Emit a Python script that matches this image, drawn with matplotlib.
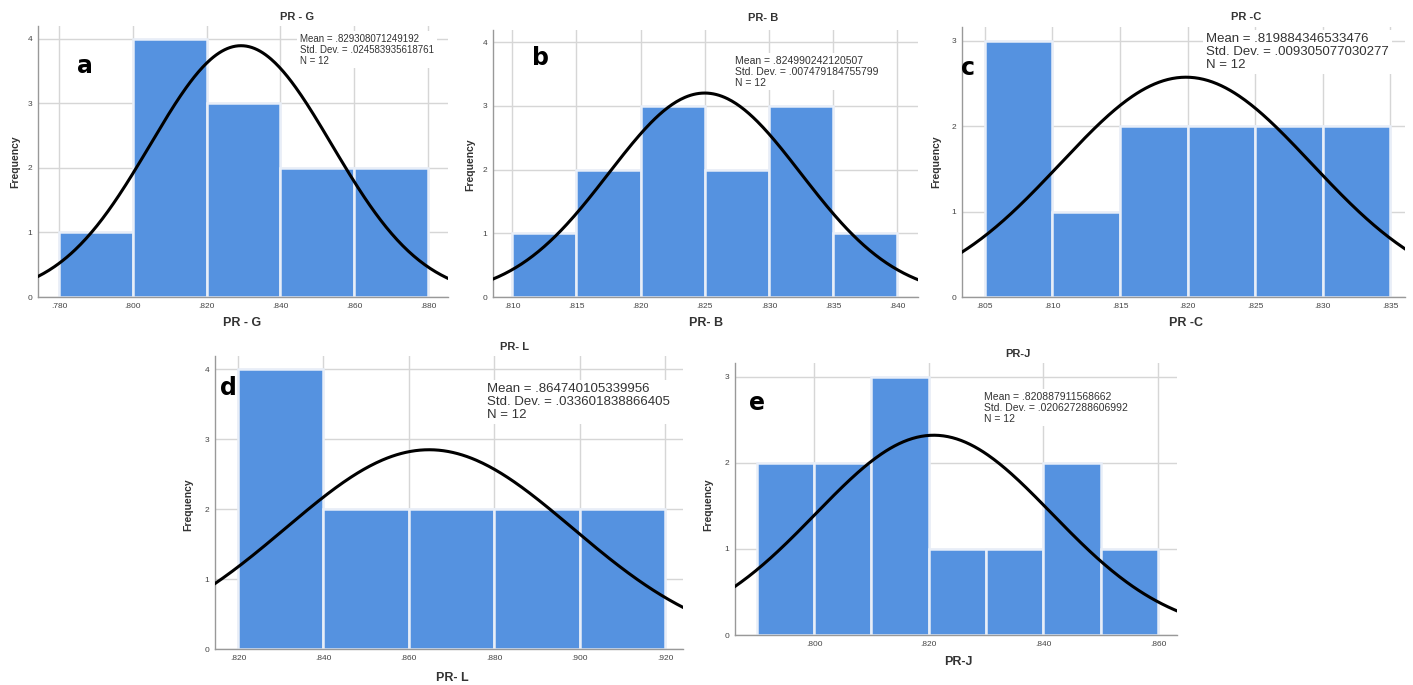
import numpy as np
import matplotlib
matplotlib.use("Agg")
from matplotlib import pyplot as plt

plt.rcParams['font.family'] = ['Liberation Sans', 'DejaVu Sans']

W, H = 1413, 685

# histogram data
names = ["PR - G", "PR- B", "PR -C", "PR- L", "PR-J"]
letters = ["a", "b", "c", "d", "e"]
bin_start = [0.780, 0.810, 0.805, 0.820, 0.790]
bin_width = [0.020, 0.005, 0.005, 0.020, 0.010]
counts_a = [1, 4, 3, 2, 2]
counts_b = [1, 2, 3, 2, 3, 1]
counts_c = [3, 1, 2, 2, 2, 2]
counts_d = [4, 2, 2, 2, 2]
counts_e = [2, 2, 3, 1, 1, 2, 1]
counts = [counts_a, counts_b, counts_c, counts_d, counts_e]
means = [".829308071249192", ".824990242120507", ".819884346533476",
         ".864740105339956", ".820887911568662"]
stds = [".024583935618761", ".007479184755799", ".009305077030277",
        ".033601838866405", ".020627288606992"]
n_obs = [12, 12, 12, 12, 12]
xticks_all = [
    [0.780, 0.800, 0.820, 0.840, 0.860, 0.880],
    [0.810, 0.815, 0.820, 0.825, 0.830, 0.835, 0.840],
    [0.805, 0.810, 0.815, 0.820, 0.825, 0.830, 0.835],
    [0.820, 0.840, 0.860, 0.880, 0.900, 0.920],
    [0.800, 0.820, 0.840, 0.860],
]
yticks_all = [[0, 1, 2, 3, 4], [0, 1, 2, 3, 4], [0, 1, 2, 3],
              [0, 1, 2, 3, 4], [0, 1, 2, 3]]

# layout (pixels): axes box, x limits, y max
boxes = [(38, 26, 448, 297), (493, 30, 918, 297), (962, 27, 1405, 297),
         (215, 356, 683, 649), (735, 363, 1177, 635)]
xlims = [(0.7743, 0.8854), (0.8085, 0.8416), (0.8033, 0.8361),
         (0.8146, 0.9242), (0.7862, 0.8633)]
ymaxs = [4.2, 4.19, 3.16, 4.19, 3.16]
title_pos = [(297, 17), (763, 18), (1246, 17), (515, 347), (1018, 354)]
xlab_pos = [(242, 323), (706, 323), (1186, 323), (452, 678), (958, 662)]
ylab_pos = [(15, 162), (470, 165), (936, 162), (188, 505), (708, 505)]
letter_pos = [(85, 66), (540, 58), (968, 68), (228, 388), (757, 403)]
stat_pos = [(300, 34), (735, 56), (1206, 33), (487, 383), (984, 392)]
stat_size = [7, 7.5, 9.5, 9.5, 7.5]

BAR = "#5592e0"
GRID = "#d6d6d6"


def fx(x):
    return x / W


def fy(y):
    return 1 - y / H


fig = plt.figure(figsize=(W / 100, H / 100), dpi=100)

for i in range(5):
    l, t, r, b = boxes[i]
    ax = fig.add_axes([fx(l), fy(b), (r - l) / W, (b - t) / H])
    c = np.array(counts[i])
    edges = bin_start[i] + bin_width[i] * np.arange(len(c))
    ax.set_axisbelow(True)
    ax.grid(True, color=GRID, lw=1.0)
    ax.bar(edges, c, width=bin_width[i], align="edge", color=BAR,
           edgecolor="#e8eef8", linewidth=1.8, zorder=2)
    mu = float(means[i])
    sd = float(stds[i])
    xs = np.linspace(xlims[i][0], xlims[i][1], 300)
    ys = n_obs[i] * bin_width[i] * np.exp(-0.5 * ((xs - mu) / sd) ** 2) / (sd * np.sqrt(2 * np.pi))
    ax.plot(xs, ys, color="black", lw=2.2, zorder=3)
    ax.set_xlim(*xlims[i])
    ax.set_ylim(0, ymaxs[i])
    ax.set_xticks(xticks_all[i])
    ax.set_xticklabels([("%.3f" % v)[1:] for v in xticks_all[i]])
    ax.set_yticks(yticks_all[i])
    ax.tick_params(length=0, labelsize=6, labelcolor="#444444", pad=4)
    for s in ["top", "right"]:
        ax.spines[s].set_visible(False)
    for s in ["left", "bottom"]:
        ax.spines[s].set_color("#999999")
        ax.spines[s].set_linewidth(1.0)

    fig.text(fx(title_pos[i][0]), fy(title_pos[i][1]), names[i], ha="center",
             va="center", fontsize=8, fontweight="bold", color="#333333")
    fig.text(fx(xlab_pos[i][0]), fy(xlab_pos[i][1]), names[i], ha="center",
             va="center", fontsize=9, fontweight="bold", color="#333333")
    fig.text(fx(ylab_pos[i][0]), fy(ylab_pos[i][1]), "Frequency", ha="center",
             va="center", rotation=90, fontsize=7.5, fontweight="bold", color="#333333")
    fig.text(fx(letter_pos[i][0]), fy(letter_pos[i][1]), letters[i], ha="center",
             va="center", fontsize=17, fontweight="bold", color="black",
             family="DejaVu Sans")
    txt = "Mean = %s\nStd. Dev. = %s\nN = %d" % (means[i], stds[i], n_obs[i])
    fig.text(fx(stat_pos[i][0]), fy(stat_pos[i][1]), txt, ha="left", va="top",
             fontsize=stat_size[i], color="#333333", linespacing=1.1,
             bbox=dict(facecolor="white", edgecolor="none", pad=2))

fig.savefig("out.png", dpi=100)
